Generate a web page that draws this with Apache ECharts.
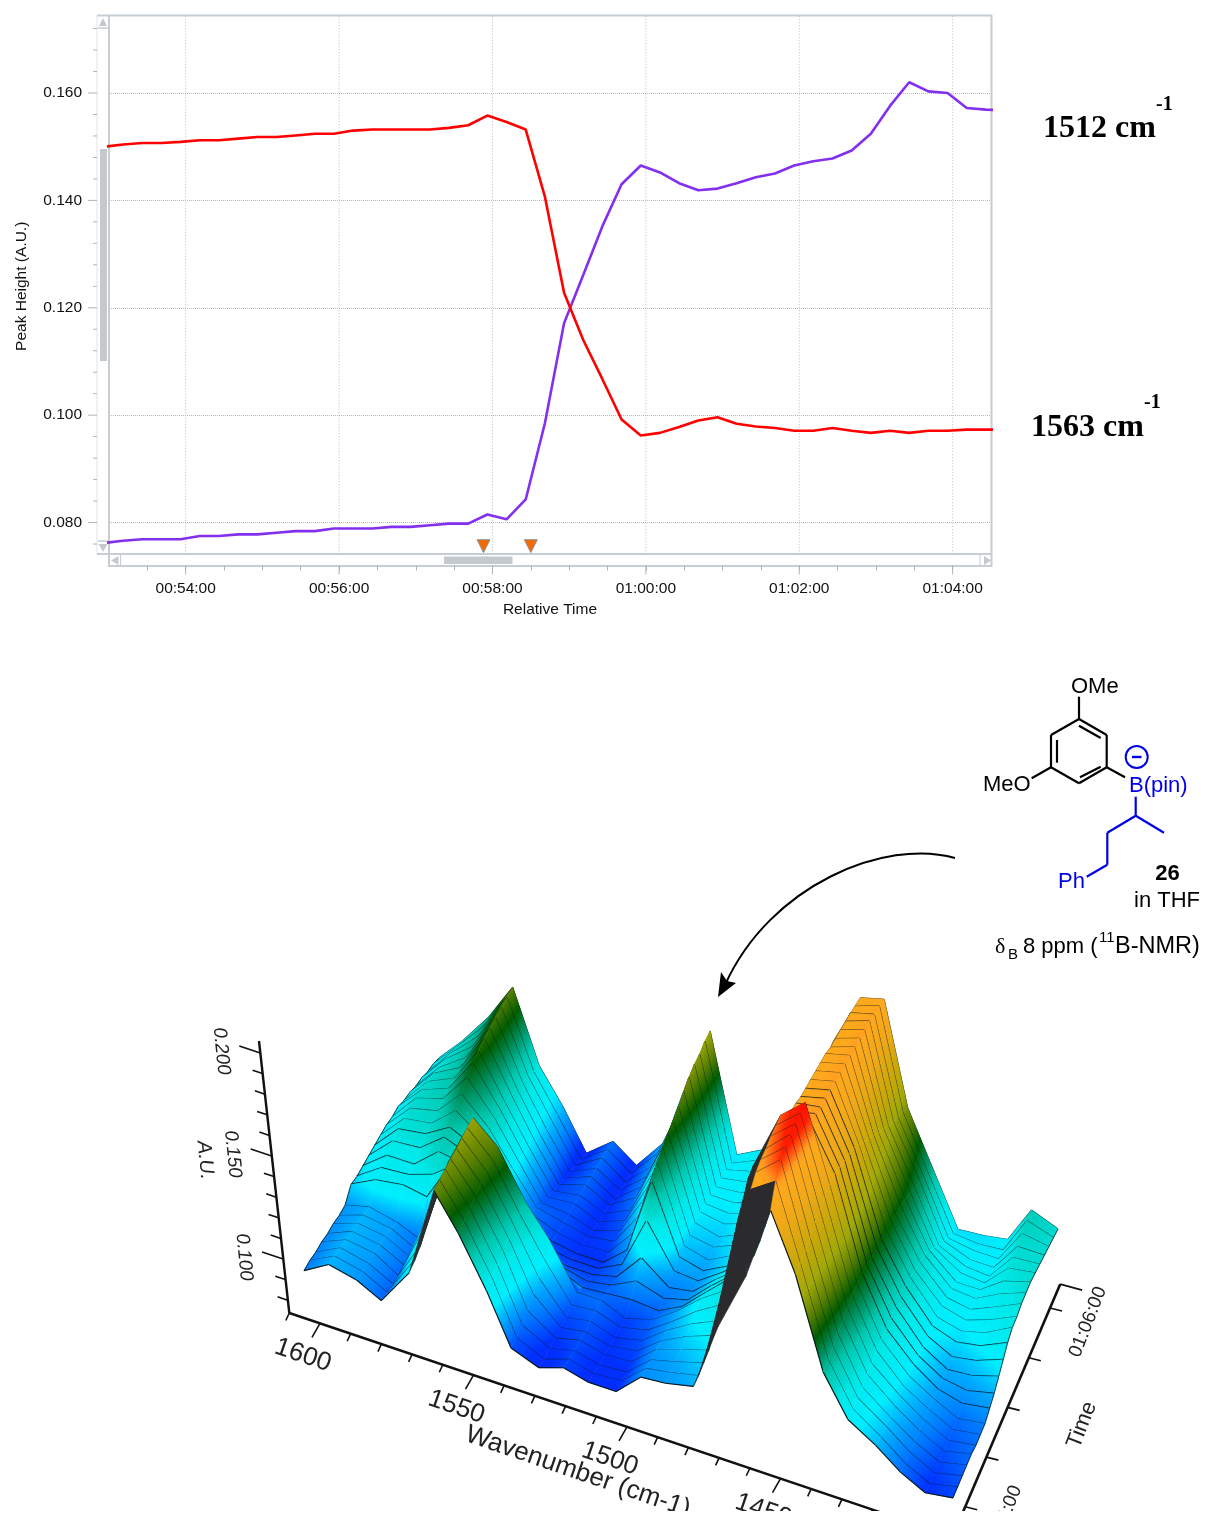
<!DOCTYPE html>
<html><head><meta charset="utf-8">
<style>html,body{margin:0;padding:0;background:#fff}#c{width:1205px;height:1517px}</style>
<script src="https://cdn.jsdelivr.net/npm/echarts@6/dist/echarts.min.js"></script>
</head><body><div id="c"></div>
<script>
// ---------- top trend chart data ----------
const relativeTime = [3176,3191,3206,3221,3236,3251,3266,3281,3296,3311,3326,3341,3356,3371,3386,3401,3416,3431,3446,3461,3476,3491,3506,3521,3536,3551,3566,3581,3596,3611,3626,3641,3656,3671,3686,3701,3716,3731,3746,3761,3776,3791,3806,3821,3836,3851,3866,3881];
const peak1563 = [.1500,.1504,.1507,.1507,.1509,.1512,.1512,.1515,.1518,.1518,.1521,.1524,.1524,.1530,.1532,.1532,.1532,.1532,.1535,.1540,.1558,.1546,.1532,.1407,.1228,.1140,.1067,.0992,.0962,.0967,.0978,.0990,.0996,.0984,.0979,.0976,.0971,.0971,.0976,.0971,.0967,.0971,.0967,.0971,.0971,.0973,.0973,.0973];
const peak1512 = [.0762,.0766,.0769,.0769,.0769,.0775,.0775,.0778,.0778,.0781,.0784,.0784,.0789,.0789,.0789,.0792,.0792,.0795,.0798,.0798,.0815,.0806,.0843,.0985,.1171,.1261,.1352,.1430,.1465,.1452,.1432,.1419,.1422,.1432,.1443,.1450,.1465,.1473,.1478,.1493,.1524,.1576,.1620,.1603,.1600,.1572,.1569,.1568];
const markerTimes = [3473,3510];
const markerValue = .0756;
const majorTimeTicks = [3240,3360,3480,3600,3720,3840];
const peakTicks = [.076,.08,.084,.088,.092,.096,.1,.104,.108,.112,.116,.12,.124,.128,.132,.136,.14,.144,.148,.152,.156,.16,.164,.168,.172];

// ---------- 3D surface data ----------
const surfaceWave = [1605,1597,1588,1580,1571,1563,1555,1546,1538,1529,1521,1513,1504,1496,1488,1479,1471,1462,1454,1446,1437,1429,1420,1412,1404,1395];
const surfaceRowPos = [0,.043,.087,.13,.174,.217,.26,.304,.348,.391,.435,.478,.52,.565,.609,.652,.696,.739,.783,.826,.87,.913,.957,1];
const surfaceMilliAU = [
[97,104,101,95,113,157,140,117,93,88,92,89,89,100,101,104,137,166,202,175,132,113,105,96,90,92],
[98,104,101,95,115,158,142,119,94,88,92,89,90,100,102,105,146,204,212,176,134,114,105,96,90,93],
[98,104,101,95,118,159,144,121,96,89,92,89,90,100,103,107,157,208,218,178,136,115,106,97,91,94],
[99,104,102,95,124,160,146,124,99,90,93,90,91,101,105,109,166,210,220,180,138,116,106,98,92,95],
[99,104,102,96,128,161,148,126,103,91,93,90,92,101,107,112,173,211,222,183,140,118,107,99,93,96],
[100,104,102,96,131,162,150,128,107,92,94,90,93,102,109,115,178,213,223,185,142,119,108,100,94,96],
[100,104,102,96,135,163,152,130,112,94,95,91,94,102,111,119,184,214,224,187,144,121,108,101,95,97],
[101,104,101,96,139,164,154,132,117,96,96,91,95,103,113,122,186,215,225,189,145,122,109,102,96,98],
[107,113,115,113,135,150,140,118,100,94,95,96,95,101,112,124,178,209,211,190,146,123,110,102,99,101],
[107,115,116,120,130,132,120,105,96,93,95,101,97,100,111,122,174,208,211,189,146,124,110,103,101,104],
[108,117,117,127,125,118,104,95,92,92,95,108,98,100,110,120,170,208,210,188,145,125,110,103,104,108],
[109,120,121,130,125,115,100,93,91,91,97,122,102,101,109,119,168,207,210,187,146,126,111,105,107,112],
[110,122,124,131,125,113,98,92,90,90,100,137,105,102,108,118,168,207,210,186,146,127,112,108,110,116],
[111,123,125,135,126,112,97,92,90,91,104,142,106,103,109,120,168,207,210,183,146,127,112,109,112,119],
[112,124,127,139,127,111,96,93,90,92,108,145,107,105,110,123,169,207,210,180,146,126,113,110,114,120],
[112,125,129,143,128,111,94,93,89,93,112,148,109,106,111,126,169,207,210,178,145,126,113,111,116,122],
[113,125,130,146,128,110,93,94,89,94,115,150,110,108,112,130,170,207,210,175,145,125,113,112,118,123],
[112,125,131,148,127,109,92,94,89,95,118,153,110,109,113,133,172,206,210,172,144,123,112,112,120,124],
[112,125,132,150,127,108,91,95,89,97,121,156,110,110,114,136,173,206,210,170,143,120,112,111,122,124],
[111,124,133,151,126,107,90,95,88,98,123,159,110,111,115,138,175,206,210,167,141,117,111,110,123,124],
[111,124,134,152,125,106,89,95,88,99,124,161,110,112,115,140,176,206,210,165,140,115,110,110,124,124],
[110,123,135,153,124,106,88,96,88,100,126,162,110,113,116,143,177,206,209,163,137,112,110,110,126,124],
[110,122,136,154,122,105,87,96,88,102,128,164,109,114,118,146,179,205,209,161,134,110,109,110,128,124],
[109,121,137,155,121,105,86,96,88,103,130,165,109,115,119,148,180,205,208,159,132,108,109,111,129,124]
];
const thickRows = [8,9,10,11,12];
// steep faces seen from behind: column index -> last row of the dark wall
const wallColumns = {4:2,15:7,16:7,17:0};
const heightKnots = [.083,.090,.097,.103,.110,.120,.130,.138,.146,.155,.165,.178,.195,.208,.211,.215,.219,.225];
const heightColors = ['#1020ff','#0030ff','#0078ff','#00a8ff','#00eeff','#00e8e8','#00c8b0','#009060','#005c00','#5a8000','#a0a808','#c8a808','#f0a818','#ffa81c','#ff9a20','#ff5a10','#ff2000','#ff1000'];
const auTicks = [.08,.09,.1,.11,.12,.13,.14,.15,.16,.17,.18,.19,.2];
const auLabels = [.1,.15,.2];
const waveTicks = [1610,1600,1590,1580,1570,1560,1550,1540,1530,1520,1510,1500,1490,1480,1470,1460,1450,1440,1430,1420,1410,1400];
const waveLabels = [1600,1550,1500,1450];
const timeTicks = [66.24,66,65.5,65,64.5,64];
const timeLabels = [[66,'01:06:00'],[64,'01:04:00']];

// ---------- helpers ----------
const fmtHMS = s => { const p=n=>String(n).padStart(2,'0'); return p(Math.floor(s/3600))+':'+p(Math.floor(s%3600/60))+':'+p(s%60); };
const hex = c => [parseInt(c.slice(1,3),16),parseInt(c.slice(3,5),16),parseInt(c.slice(5,7),16)];
function colorAt(v){
  if(v<=heightKnots[0]) return heightColors[0];
  for(let k=1;k<heightKnots.length;k++){
    if(v<=heightKnots[k]){
      const f=(v-heightKnots[k-1])/(heightKnots[k]-heightKnots[k-1]);
      const a=hex(heightColors[k-1]),b=hex(heightColors[k]);
      return 'rgb('+a.map((x,i)=>Math.round(x+(b[i]-x)*f)).join(',')+')';
    }
  }
  return heightColors[heightColors.length-1];
}
// projection of the surface onto page pixels
function surfacePoint(w,t,au){
  const s=(1605-w)/210;
  const fx=304+649*s+t*(135-30*s), fy=1318+217*s-t*(188+15*s);
  return [fx, fy-(au-.074)*2060];
}
const auPoint = v => { const y=1053+(.2-v)*2060; return [259+(y-1041)*30/272,y]; };
const wavePoint = w => [289.3+(1610-w)*3.07, 1313+(1610-w)*1.035];
const timePoint = m => [1050-(66-m)*42.4, 1308+(66-m)*99.4];

function quadFill(p,v){
  const dx1=p[2][0]-p[0][0],dy1=p[2][1]-p[0][1],dv1=v[2]-v[0];
  const dx2=p[3][0]-p[1][0],dy2=p[3][1]-p[1][1],dv2=v[3]-v[1];
  const det=dx1*dy2-dx2*dy1;
  const mean=(v[0]+v[1]+v[2]+v[3])/4;
  if(Math.abs(det)<1) return colorAt(mean);
  const a=(dv1*dy2-dv2*dy1)/det,b=(dx1*dv2-dx2*dv1)/det,g2=a*a+b*b;
  const lo=Math.min(...v),hi=Math.max(...v);
  if(g2<1e-12||hi-lo<1e-4) return colorAt(mean);
  const cx=(p[0][0]+p[1][0]+p[2][0]+p[3][0])/4,cy=(p[0][1]+p[1][1]+p[2][1]+p[3][1])/4;
  const x0=cx+a*(lo-mean)/g2,y0=cy+b*(lo-mean)/g2,x1=cx+a*(hi-mean)/g2,y1=cy+b*(hi-mean)/g2;
  const stops=[{offset:0,color:colorAt(lo)}];
  heightKnots.forEach(k=>{ if(k>lo&&k<hi) stops.push({offset:(k-lo)/(hi-lo),color:colorAt(k)}); });
  stops.push({offset:1,color:colorAt(hi)});
  return new echarts.graphic.LinearGradient(x0,y0,x1,y1,stops,true);
}
const area=p=>{let s=0;for(let i=0;i<p.length;i++){const q=p[(i+1)%p.length];s+=p[i][0]*q[1]-q[0]*p[i][1];}return s/2;};

function renderSurfaceRow(params,api){
  const i=api.value(0), kids=[];
  const P=(r,j)=>{const q=surfacePoint(surfaceWave[j],surfaceRowPos[r],surfaceMilliAU[r][j]/1000);return api.coord(q);};
  const V=(r,j)=>surfaceMilliAU[r][j]/1000;
  const last=surfaceRowPos.length-1;
  const lineCol='#06161a';
  if(i===last){
    for(let j=0;j<surfaceWave.length-1;j++){
      const a=P(i,j),b=P(i,j+1);
      kids.push({type:'line',shape:{x1:a[0],y1:a[1],x2:b[0],y2:b[1]},style:{stroke:lineCol,lineWidth:1.1}});
    }
    return {type:'group',children:kids};
  }
  for(let j=0;j<surfaceWave.length-1;j++){
    const pts=[P(i,j),P(i,j+1),P(i+1,j+1),P(i+1,j)];
    const vals=[V(i,j),V(i,j+1),V(i+1,j+1),V(i+1,j)];
    const wallEnd=wallColumns[j];
    const back=(area(pts)>=0&&(j<=4||j>=15))||(wallEnd!==undefined&&i<=wallEnd);
    const fill=back?'#2b2b2d':quadFill(pts,vals);
    kids.push({type:'polygon',shape:{points:pts},style:{fill:fill,stroke:fill,lineWidth:.6}});
    if(!back){
      const w=thickRows.indexOf(i)>=0?2:1.15;
      kids.push({type:'line',shape:{x1:pts[0][0],y1:pts[0][1],x2:pts[1][0],y2:pts[1][1]},style:{stroke:lineCol,lineWidth:w}});
    }
    if(j===0||j===surfaceWave.length-2){
      const a=j===0?pts[0]:pts[1],b=j===0?pts[3]:pts[2];
      kids.push({type:'line',shape:{x1:a[0],y1:a[1],x2:b[0],y2:b[1]},style:{stroke:lineCol,lineWidth:.8}});
    }
  }
  return {type:'group',children:kids};
}

function tickLine(a,dx,dy,w,col){return {type:'line',shape:{x1:a[0],y1:a[1],x2:a[0]+dx,y2:a[1]+dy},style:{stroke:col||'#111',lineWidth:w||1.6}};}
function rotText(text,p,rot,size,extra){
  return {type:'text',x:p[0],y:p[1],rotation:rot,style:Object.assign({text:text,x:0,y:0,align:'center',verticalAlign:'middle',fill:'#222',font:size+'px "Liberation Sans", Arial, sans-serif'},extra||{})};
}
function render3DAxes(params,api){
  const c=q=>api.coord(q), kids=[];
  const line=(a,b,w)=>({type:'line',shape:{x1:a[0],y1:a[1],x2:b[0],y2:b[1]},style:{stroke:'#111',lineWidth:w}});
  kids.push(line(c([259,1041]),c([289.3,1313]),2.4));
  kids.push(line(c([289.3,1313]),c(wavePoint(1390)),2.4));
  kids.push(line(c(timePoint(66.24)),c(timePoint(63.85)),2.6));
  auTicks.forEach(v=>{const maj=auLabels.indexOf(v)>=0;kids.push(tickLine(c(auPoint(v)),maj?-21:-10,maj?-7:-3.4));});
  auLabels.forEach(v=>{const q=auPoint(v);kids.push(rotText(v.toFixed(3),c([q[0]-39,q[1]-2]),-1.47,19,{font:'italic 19px "Liberation Sans", Arial, sans-serif'}));});
  kids.push(rotText('A.U.',c([205,1160]),-1.47,20,{font:'italic 20px "Liberation Sans", Arial, sans-serif'}));
  waveTicks.forEach(w=>{const maj=waveLabels.indexOf(w)>=0;kids.push(tickLine(c(wavePoint(w)),maj?-8:-3.5,maj?14:7.5));});
  waveLabels.forEach(w=>{const q=wavePoint(w);kids.push(rotText(String(w),c([q[0]-17,q[1]+32]),-.33,26));});
  kids.push(rotText('Wavenumber (cm-1)',c([578,1472]),-.33,26));
  timeTicks.forEach((m,k)=>{kids.push(tickLine(c(timePoint(m)),k===0?22:12,k===0?6:3));});
  timeLabels.forEach(l=>{const q=timePoint(l[0]);kids.push(rotText(l[1],c([q[0]+38,q[1]+14]),1.2,19));});
  kids.push(rotText('Time',c([1082,1425]),1.2,22));
  return {type:'group',children:kids};
}
function renderChartTicks(params,api){
  const kids=[],frame='#aeb6bb';
  const yMin=.0741,yMax=.1743;
  majorTimeTicks.forEach(t=>{
    const a=api.coord([t,yMin]),b=api.coord([t,yMax]);
    kids.push({type:'line',shape:{x1:a[0],y1:a[1],x2:b[0],y2:b[1]},style:{stroke:'#b4bcc2',lineWidth:1,lineDash:[1,2]}});
    const g=api.coord([t,.072]);
    kids.push({type:'line',shape:{x1:g[0],y1:g[1],x2:g[0],y2:g[1]+9},style:{stroke:frame,lineWidth:1}});
  });
  peakTicks.forEach(v=>{
    const p=api.coord([3180,v]);const maj=Math.round(v*1000)%20===0;
    kids.push({type:'line',shape:{x1:97,y1:p[1],x2:maj?88:93,y2:p[1]},style:{stroke:frame,lineWidth:1}});
  });
  return {type:'group',children:kids};
}

// ---------- page furniture (frame of the original software chart, structure, labels) ----------
const frameCol='#c6ced3', thumbCol='#c3c9cd';
const L=(x1,y1,x2,y2,col,w)=>({type:'line',silent:true,shape:{x1,y1,x2,y2},style:{stroke:col,lineWidth:w}});
const T=(text,x,y,font,fill,align)=>({type:'text',silent:true,x,y,style:{text,font,fill:fill||'#000',align:align||'left',verticalAlign:'middle'}});
const POLY=(points,fill)=>({type:'polygon',silent:true,shape:{points},style:{fill}});
const sans='"Liberation Sans", Arial, sans-serif', serif='"Liberation Serif", "Times New Roman", serif';
const black='#000', blue='#0000e6';
const graphics=[
  L(97,15.5,992,15.5,frameCol,2), L(991.5,15,991.5,567,frameCol,2), L(109,15,109,567,frameCol,2), L(97,15,97,555,'#dfe3e6',1),
  L(97,554,992,554,frameCol,2), L(109,566,992,566,frameCol,2), L(98,28,109,28,frameCol,1.5), L(98,541,109,541,frameCol,1.5),
  L(120.5,555,120.5,566,frameCol,1), L(980,555,980,566,frameCol,1),
  {type:'rect',silent:true,shape:{x:100,y:149,width:7,height:212},style:{fill:thumbCol}},
  {type:'rect',silent:true,shape:{x:444,y:556.5,width:68.5,height:7.5},style:{fill:thumbCol}},
  POLY([[103,18],[99,26],[107,26]],thumbCol), POLY([[103,552],[98.5,544],[107.5,544]],thumbCol),
  POLY([[111,560.5],[118.5,556],[118.5,565]],thumbCol), POLY([[991,560.5],[984,556],[984,565]],thumbCol),
  T('1512 cm',1043,129,'bold 32px '+serif), T('-1',1156,105,'bold 20px '+serif),
  T('1563 cm',1031,428,'bold 32px '+serif), T('-1',1144,403,'bold 20px '+serif),
  // structure
  L(1079,719,1106.7,735,black,2.2), L(1106.7,735,1106.7,767.3,black,2.2), L(1106.7,767.3,1079,783.3,black,2.2),
  L(1079,783.3,1051,767.3,black,2.2), L(1051,767.3,1051,735,black,2.2), L(1051,735,1079,719,black,2.2),
  L(1079,725.7,1100.7,738,black,2.2), L(1080,777.3,1100.7,766.7,black,2.2), L(1057,740,1057,762.7,black,2.2),
  L(1079,719,1079,696.7,black,2.2), L(1051,767.3,1031.7,778.3,black,2.2), L(1106.7,767.3,1125,777.3,black,2.2),
  T('OMe',1071,687,'22px '+sans), T('MeO',983,785,'22px '+sans),
  T('B(pin)',1129,786,'22px '+sans,blue),
  {type:'circle',silent:true,shape:{cx:1136.7,cy:757,r:11},style:{fill:'none',stroke:blue,lineWidth:2}},
  L(1132,757,1141.5,757,blue,2.4),
  L(1135.7,796.7,1135.7,815.7,blue,2.2), L(1135.7,815.7,1164,832.7,blue,2.2), L(1135.7,815.7,1107.3,832.7,blue,2.2),
  L(1107.3,832.7,1107.3,864.7,blue,2.2), L(1107.3,864.7,1086.7,876.7,blue,2.2),
  T('Ph',1058,882,'22px '+sans,blue), T('26',1167.5,874,'bold 22px '+sans,'#000','center'), T('in THF',1134,901,'22px '+sans),
  T('δ',995,947,'22px '+serif), T('B',1008,955,'15px '+sans), T('8 ppm (',1023,947,'22px '+sans),
  T('11',1099,938,'15px '+sans), T('B-NMR)',1115,947,'23.5px '+sans),
  // arrow
  {type:'bezierCurve',silent:true,shape:{x1:955,y1:858,cpx1:885,cpy1:838,cpx2:770,cpy2:885,x2:725,y2:985},style:{stroke:'#000',lineWidth:2,fill:'none'}},
  POLY([[718,997],[721,972],[727,981],[736,983]],'#000'),
  // picture is cropped at the bottom
  {type:'rect',silent:true,z:1000,shape:{x:0,y:1511,width:1205,height:6},style:{fill:'#fff'}}
];

const chart=echarts.init(document.getElementById('c'),null,{renderer:'canvas'});
const gridCol='#b4bcc2';
chart.setOption({
  animation:false, backgroundColor:'#fff',
  grid:[{left:109,top:7.1,width:882,height:558.4},{left:0,top:0,width:1205,height:1517}],
  xAxis:[
    {type:'value',gridIndex:0,min:3180,max:3870,interval:30,
     axisLine:{show:false},axisTick:{show:true,length:5,lineStyle:{color:'#aeb6bb'}},splitLine:{show:false},
     axisLabel:{margin:15,fontSize:15.5,color:'#111',fontFamily:'Liberation Sans',showMinLabel:false,showMaxLabel:false,hideOverlap:false,
       formatter:v=>v%120===0?fmtHMS(v):''},
     name:'Relative Time',nameLocation:'middle',nameGap:36,nameTextStyle:{fontSize:15.5,color:'#111',fontFamily:'Liberation Sans'}},
    {type:'value',gridIndex:1,min:0,max:1205,show:false}
  ],
  yAxis:[
    {type:'value',gridIndex:0,min:.072,max:.176,interval:.004,offset:12,
     axisLine:{show:false},axisTick:{show:false},
     splitLine:{show:true,lineStyle:{type:'dotted',width:1,color:['transparent','transparent',gridCol,'transparent','transparent']}},
     axisLabel:{margin:15,fontSize:15.5,color:'#111',fontFamily:'Liberation Sans',showMinLabel:false,showMaxLabel:false,hideOverlap:false,
       formatter:v=>Math.round(v*1000)%20===0?v.toFixed(3):''},
     name:'Peak Height (A.U.)',nameLocation:'middle',nameRotate:90,nameGap:67,nameTextStyle:{fontSize:15.5,color:'#111',fontFamily:'Liberation Sans'}},
    {type:'value',gridIndex:1,min:0,max:1517,inverse:true,show:false}
  ],
  series:[
    {type:'custom',name:'ticks',xAxisIndex:0,yAxisIndex:0,silent:true,clip:false,data:[0],renderItem:renderChartTicks,z:1},
    {type:'line',name:'1563 cm-1',xAxisIndex:0,yAxisIndex:0,showSymbol:false,symbol:'none',lineStyle:{color:'#ff0000',width:2.6},data:relativeTime.map((t,i)=>[t,peak1563[i]]),z:3},
    {type:'line',name:'1512 cm-1',xAxisIndex:0,yAxisIndex:0,showSymbol:false,symbol:'none',lineStyle:{color:'#8330ee',width:2.6},data:relativeTime.map((t,i)=>[t,peak1512[i]]),z:2},
    {type:'scatter',name:'events',xAxisIndex:0,yAxisIndex:0,symbol:'triangle',symbolRotate:180,symbolSize:13,itemStyle:{color:'#f26a00',opacity:1,borderColor:'#8f969b',borderWidth:1},data:markerTimes.map(t=>[t,markerValue]),z:4},
    {type:'custom',name:'surface',xAxisIndex:1,yAxisIndex:1,silent:true,clip:false,progressive:0,
      data:surfaceRowPos.map((_,i)=>surfaceRowPos.length-1-i),encode:{x:0},renderItem:renderSurfaceRow,z:6},
    {type:'custom',name:'axes3d',xAxisIndex:1,yAxisIndex:1,silent:true,clip:false,data:[0],renderItem:render3DAxes,z:5}
  ],
  graphic:{elements:graphics}
});
</script></body></html>
